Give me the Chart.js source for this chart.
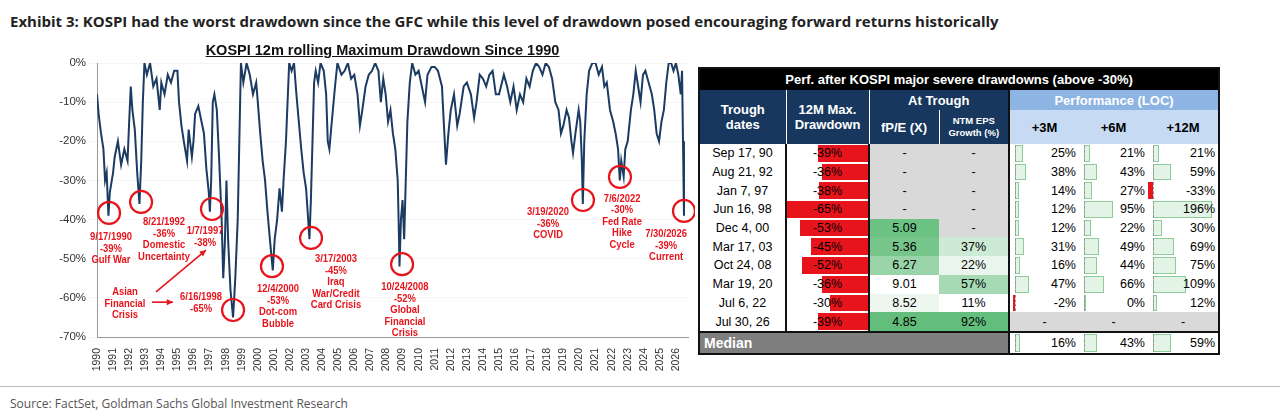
<!DOCTYPE html>
<html>
<head>
<meta charset="utf-8">
<script src="https://cdn.jsdelivr.net/npm/chart.js@4.4.1/dist/chart.umd.min.js"></script>
<style>
  body { margin: 0; width: 1280px; height: 410px; background: #fff; font-family: 'Liberation Sans', Arial, sans-serif; position: relative; overflow: hidden; }
  #hdr { position: absolute; left: 10px; top: 11px; font: bold 15px 'Open Sans', 'Liberation Sans', sans-serif; color: #222; }
  #ctitle { position: absolute; left: 0; width: 765px; top: 42px; text-align: center; font: bold 14.5px 'Liberation Sans', Arial, sans-serif; text-decoration: underline; color: #111; }
  #wrap { position: absolute; left: 0; top: 40px; width: 695px; height: 345px; }
  #rule { position: absolute; left: 0; right: 0; top: 386px; border-top: 1px solid #bbb; }
  #src { position: absolute; left: 10px; top: 395px; font: 12px 'Open Sans', sans-serif; color: #555; }
  table { position: absolute; left: 698px; top: 67px; width: 520px; table-layout: fixed; border-collapse: collapse; font-size: 12.5px; border: 2px solid #111; }
  td { padding: 0; height: 18.7px; text-align: center; position: relative; overflow: hidden; white-space: nowrap; }
  .t { background: #000; color: #fff; font-weight: bold; font-size: 13px; height: 21px; }
  .h { background: #17375e; color: #fff; font-weight: bold; font-size: 13px; border-left: 1px solid #fff; }
  .ph { background: #8db4e2; color: #fff; font-weight: bold; font-size: 13px; height: 20px; }
  .ps { background: #c6dbf3; color: #000; font-weight: bold; font-size: 13px; }
  .bar { position: absolute; top: 1px; bottom: 1px; }
  .txt { position: relative; }
  .gray { background: #d9d9d9; }
  .sep { border-left: 2px solid #111; }
</style>
</head>
<body>
<div id="hdr">Exhibit 3: KOSPI had the worst drawdown since the GFC while this level of drawdown posed encouraging forward returns historically</div>
<div id="wrap"><canvas id="c"></canvas></div>
<div id="ctitle">KOSPI 12m rolling Maximum Drawdown Since 1990</div>
<table id="tbl"></table>
<div id="rule"></div>
<div id="src">Source: FactSet, Goldman Sachs Global Investment Research</div>
<script>
// drawdown series, year (decimal) and percent
const ddYears = [1990.0,1990.1,1990.25,1990.4,1990.5,1990.6,1990.71,1990.8,1991.0,1991.1,1991.3,1991.5,1991.7,1991.9,1992.0,1992.1,1992.2,1992.35,1992.5,1992.64,1992.75,1992.85,1992.95,1993.1,1993.3,1993.5,1993.7,1993.9,1994.0,1994.2,1994.4,1994.6,1994.8,1995.0,1995.1,1995.25,1995.4,1995.6,1995.7,1995.9,1996.0,1996.1,1996.3,1996.5,1996.65,1996.8,1996.95,1997.02,1997.1,1997.2,1997.3,1997.45,1997.6,1997.75,1997.85,1997.95,1998.05,1998.15,1998.3,1998.46,1998.6,1998.75,1998.85,1998.95,1999.1,1999.3,1999.5,1999.7,1999.9,2000.0,2000.15,2000.3,2000.45,2000.6,2000.75,2000.93,2001.05,2001.2,2001.35,2001.5,2001.6,2001.75,2001.85,2001.95,2002.1,2002.25,2002.4,2002.55,2002.7,2002.85,2003.0,2003.1,2003.21,2003.3,2003.4,2003.5,2003.6,2003.75,2003.9,2004.1,2004.25,2004.35,2004.45,2004.6,2004.8,2004.95,2005.2,2005.4,2005.6,2005.8,2006.0,2006.2,2006.35,2006.5,2006.7,2006.9,2007.1,2007.3,2007.5,2007.65,2007.8,2007.95,2008.1,2008.25,2008.4,2008.55,2008.7,2008.78,2008.81,2008.9,2009.0,2009.1,2009.2,2009.3,2009.45,2009.6,2009.8,2010.0,2010.2,2010.4,2010.55,2010.8,2011.0,2011.2,2011.45,2011.6,2011.7,2011.85,2012.0,2012.2,2012.4,2012.55,2012.8,2013.0,2013.25,2013.45,2013.6,2013.8,2014.0,2014.2,2014.4,2014.6,2014.8,2015.0,2015.3,2015.5,2015.7,2015.9,2016.1,2016.3,2016.5,2016.7,2016.9,2017.1,2017.3,2017.5,2017.7,2017.9,2018.1,2018.3,2018.5,2018.7,2018.85,2019.0,2019.2,2019.35,2019.5,2019.6,2019.75,2019.95,2020.05,2020.15,2020.21,2020.3,2020.45,2020.6,2020.8,2021.0,2021.2,2021.4,2021.55,2021.7,2021.9,2022.1,2022.25,2022.4,2022.51,2022.6,2022.75,2022.85,2023.0,2023.2,2023.35,2023.5,2023.65,2023.8,2023.95,2024.1,2024.3,2024.5,2024.65,2024.8,2024.95,2025.1,2025.25,2025.4,2025.55,2025.7,2025.85,2026.0,2026.15,2026.3,2026.38,2026.44,2026.5];
const ddValues = [-8,-13,-18,-22,-30,-28,-39,-33,-28,-24,-20,-26,-22,-25,-15,-6,-12,-17,-28,-36,-25,-10,0,-3,0,-6,-4,-12,-5,-8,-3,-5,-2,-2,-10,-16,-20,-25,-17,-24,-20,-13,-11,-15,-18,-27,-33,-38,-30,-10,-8,-12,-25,-40,-55,-46,-30,-45,-58,-65,-55,-40,-20,0,-5,0,-3,-8,-5,-10,-18,-25,-30,-38,-45,-53,-45,-40,-32,-38,-30,-20,-10,0,-2,0,-8,-15,-22,-28,-32,-38,-45,-35,-20,-5,-2,-5,0,-2,-8,-20,-22,-15,-6,0,-3,-2,0,-4,-3,-8,-16,-12,-6,-3,-2,0,-2,-10,-4,-8,-15,-12,-18,-22,-30,-45,-52,-40,-35,-45,-30,-15,-5,0,-3,-2,-6,-10,-3,-1,-1,-2,-6,-18,-26,-18,-12,-8,-16,-13,-6,-5,-8,-14,-10,-3,-4,-6,-3,-2,-8,-8,-3,-6,-10,-6,-12,-8,-10,-4,-6,-2,0,-1,-3,0,-1,-4,-10,-12,-18,-16,-12,-14,-20,-23,-18,-12,-15,-25,-36,-20,-8,-2,0,0,-3,-1,-6,-5,-12,-15,-18,-22,-30,-25,-29,-22,-20,-12,-8,-2,-6,-10,-3,-2,-5,-8,-12,-18,-20,-15,-12,-5,0,0,-2,0,-3,-8,-2,-20,-39];
const yearTicks = Array.from({length: 37}, (_, i) => 1990 + i);

// annotations: circle centre, label anchor (data coords) and text lines
const notes = [
  {cx: 1990.75, cy: -38.3, tx: 1990.87, ty: -44.5, lines: ['9/17/1990', '-39%', 'Gulf War']},
  {cx: 1992.74, cy: -35.5, tx: 1994.17, ty: -40.6, lines: ['8/21/1992', '-36%', 'Domestic', 'Uncertainty']},
  {cx: 1997.15, cy: -37.3, tx: 1996.72, ty: -42.9, lines: ['1/7/1997', '-38%']},
  {cx: 1998.46, cy: -63.1, tx: 1996.47, ty: -59.8, lines: ['6/16/1998', '-65%']},
  {cx: null, cy: null, tx: 1991.74, ty: -58.5, lines: ['Asian', 'Financial', 'Crisis']},
  {cx: 2000.88, cy: -51.9, tx: 2001.26, ty: -57.7, lines: ['12/4/2000', '-53%', 'Dot-com', 'Bubble']},
  {cx: 2003.31, cy: -44.7, tx: 2004.86, ty: -50.1, lines: ['3/17/2003', '-45%', 'Iraq', 'War/Credit', 'Card Crisis']},
  {cx: 2008.97, cy: -51.4, tx: 2009.15, ty: -57.2, lines: ['10/24/2008', '-52%', 'Global', 'Financial', 'Crisis']},
  {cx: 2020.22, cy: -35.0, tx: 2018.05, ty: -38.1, lines: ['3/19/2020', '-36%', 'COVID']},
  {cx: 2022.52, cy: -29.1, tx: 2022.65, ty: -34.7, lines: ['7/6/2022', '-30%', 'Fed Rate', 'Hike', 'Cycle']},
  {cx: 2026.5, cy: -37.8, tx: 2025.39, ty: -43.7, lines: ['7/30/2026', '-39%', 'Current']}
];
const arrows = [[1993.67, -58.5, 1996.78, -47.8], [1993.42, -61.1, 1994.73, -61.1]];

// table data
const troughDates = ['Sep 17, 90','Aug 21, 92','Jan 7, 97','Jun 16, 98','Dec 4, 00','Mar 17, 03','Oct 24, 08','Mar 19, 20','Jul 6, 22','Jul 30, 26'];
const maxDD = [-39,-36,-38,-65,-53,-45,-52,-36,-30,-39];
const fpe = [null,null,null,null,5.09,5.36,6.27,9.01,8.52,4.85];
const epsGrowth = [null,null,null,null,null,37,22,57,11,92];
const perf3m = [25,38,14,12,12,31,16,47,-2,null];
const perf6m = [21,43,27,95,22,49,44,66,0,null];
const perf12m = [21,59,-33,196,30,69,75,109,12,null];
const median = [16,43,59];

const red = '#e8141c';
const annot = {
  id: 'annot',
  afterDatasetsDraw(chart) {
    const {ctx, scales: {x, y}} = chart;
    ctx.save();
    ctx.strokeStyle = red; ctx.fillStyle = red; ctx.lineWidth = 2.2;
    notes.forEach(n => {
      if (n.cx !== null) {
        ctx.beginPath();
        ctx.arc(x.getPixelForValue(n.cx), y.getPixelForValue(n.cy), 11, 0, Math.PI * 2);
        ctx.stroke();
      }
      ctx.font = "bold 11.5px 'Liberation Sans', Arial, sans-serif";
      ctx.textAlign = 'center'; ctx.textBaseline = 'middle';
      const px = x.getPixelForValue(n.tx), py = y.getPixelForValue(n.ty);
      // condensed look, like Arial Narrow
      ctx.save();
      ctx.translate(px, py);
      ctx.scale(0.82, 1);
      n.lines.forEach((l, i) => ctx.fillText(l, 0, i * 11.5));
      ctx.restore();
    });
    ctx.lineWidth = 1.6;
    arrows.forEach(([x1, y1, x2, y2]) => {
      const a = x.getPixelForValue(x1), b = y.getPixelForValue(y1);
      const c = x.getPixelForValue(x2), d = y.getPixelForValue(y2);
      ctx.beginPath(); ctx.moveTo(a, b); ctx.lineTo(c, d); ctx.stroke();
      const ang = Math.atan2(d - b, c - a);
      ctx.beginPath();
      ctx.moveTo(c, d);
      ctx.lineTo(c - 7 * Math.cos(ang - 0.45), d - 7 * Math.sin(ang - 0.45));
      ctx.lineTo(c - 7 * Math.cos(ang + 0.45), d - 7 * Math.sin(ang + 0.45));
      ctx.closePath(); ctx.fill();
    });
    ctx.restore();
  }
};

new Chart(document.getElementById('c'), {
  type: 'line',
  data: {
    datasets: [{
      data: ddYears.map((t, i) => ({x: t, y: ddValues[i]})),
      borderColor: '#1c3b63', borderWidth: 2, pointRadius: 0, tension: 0
    }]
  },
  options: {
    responsive: true, maintainAspectRatio: false, animation: false,
    layout: {padding: {top: 23, right: 7, left: 0, bottom: 0}},
    plugins: {legend: {display: false}, tooltip: {enabled: false}},
    scales: {
      x: {
        type: 'linear', min: 1990, max: 2026.75,
        afterBuildTicks: s => { s.ticks = yearTicks.map(v => ({value: v})); },
        afterFit: s => { s.height = 48; },
        ticks: {minRotation: 90, maxRotation: 90, color: '#333', font: {size: 10.5, family: "'Liberation Sans', Arial"}, callback: v => String(v)},
        grid: {display: false},
        border: {color: '#999'}
      },
      y: {
        min: -70, max: 0,
        afterFit: s => { s.width = 97; },
        ticks: {stepSize: 10, color: '#333', font: {size: 11.5, family: "'Liberation Sans', Arial"}, callback: v => v + '%'},
        grid: {color: 'rgba(0,0,0,0.04)'},
        border: {color: '#999'}
      }
    }
  },
  plugins: [annot]
});

// table
const colW = [87, 83, 70, 70, 70, 69, 71];
const greenScale = (v, lo, hi) => {
  const f = Math.max(0, Math.min(1, (hi - v) / (hi - lo)));
  const r = Math.round(255 + (99 - 255) * f), g = Math.round(255 + (190 - 255) * f), b = Math.round(255 + (123 - 255) * f);
  return `rgb(${r},${g},${b})`;
};
const greenScaleUp = (v, lo, hi) => greenScale(hi - (v - lo), lo, hi);
function perfCell(v, extra) {
  if (v === null) return `<td class="gray${extra}">-</td>`;
  const axis = 5, w = Math.max(Math.abs(v) * 0.3, v < 0 ? 2 : 0);
  const bar = v >= 0
    ? `<div class="bar" style="left:${axis}px;width:${w}px;background:#e3f3e6;border:1px solid #8ccc98;box-sizing:border-box"></div>`
    : `<div class="bar" style="left:${axis - w}px;width:${w}px;background:${red}"></div>`;
  return `<td class="${extra}" style="text-align:right;padding-right:3px">${bar}<div class="bar" style="left:${axis}px;border-left:1px dashed #999"></div><span class="txt">${v}%</span></td>`;
}
let html = `<colgroup>${colW.map(w => `<col style="width:${w}px">`).join('')}</colgroup>
<tr><td colspan="7" class="t">Perf. after KOSPI major severe drawdowns (above -30%)</td></tr>
<tr><td rowspan="2" class="h" style="border-left:none;white-space:normal">Trough<br>dates</td>
<td rowspan="2" class="h" style="white-space:normal">12M Max.<br>Drawdown</td>
<td colspan="2" class="h">At Trough</td>
<td colspan="3" class="ph sep">Performance (LOC)</td></tr>
<tr><td class="h" style="height:34px">fP/E (X)</td>
<td class="h" style="font-size:9.5px;line-height:12px;white-space:normal">NTM EPS<br>Growth (%)</td>
<td class="ps sep">+3M</td><td class="ps">+6M</td><td class="ps">+12M</td></tr>`;
troughDates.forEach((d, i) => {
  const w = Math.abs(maxDD[i]) / 65 * colW[1];
  html += `<tr><td style="border-right:2px solid #111">${d}</td>
  <td><div class="bar" style="right:0;width:${w}px;background:${red}"></div><span class="txt">${maxDD[i]}%</span></td>
  ${fpe[i] === null ? '<td class="gray" style="border-left:2px solid #111">-</td>' : `<td style="border-left:2px solid #111;background:${greenScale(fpe[i], 4.85, 9.01)}">${fpe[i].toFixed(2)}</td>`}
  ${epsGrowth[i] === null ? '<td class="gray">-</td>' : `<td style="background:${greenScaleUp(epsGrowth[i], 11, 92)}">${epsGrowth[i]}%</td>`}
  ${perfCell(perf3m[i], ' sep')}${perfCell(perf6m[i], '')}${perfCell(perf12m[i], '')}</tr>`;
});
html += `<tr style="border-top:2px solid #111"><td colspan="4" style="background:#7f7f7f;color:#fff;font-weight:bold;font-size:14px;text-align:left;padding-left:4px;height:20px">Median</td>
${perfCell(median[0], ' sep')}${perfCell(median[1], '')}${perfCell(median[2], '')}</tr>`;
document.getElementById('tbl').innerHTML = html;
</script>
</body>
</html>
